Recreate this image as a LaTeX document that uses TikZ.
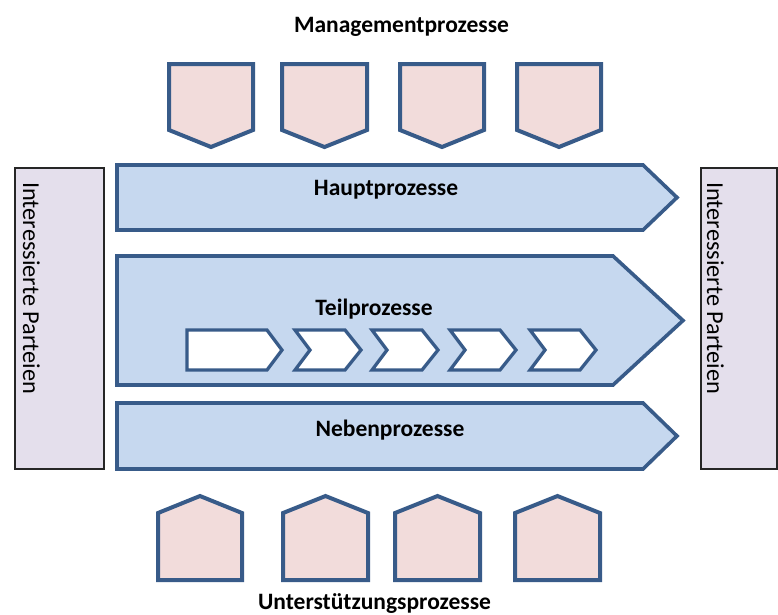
\documentclass[tikz,border=0pt]{standalone}
\usepackage{fontspec}
\setmainfont{Carlito}
\begin{document}
\definecolor{frameblue}{HTML}{385B89}
\definecolor{arrowfill}{HTML}{C6D8EF}
\definecolor{pinkfill}{HTML}{F2DCDB}
\definecolor{lilacfill}{HTML}{E4DFEC}
\begin{tikzpicture}[x=1pt,y=-1pt,
  procarrow/.style={draw=frameblue,fill=arrowfill,line width=3.6pt,line join=miter},
  pentabox/.style={draw=frameblue,fill=pinkfill,line width=4pt,line join=miter},
  chevronbox/.style={draw=frameblue,fill=white,line width=3.3pt,line join=miter},
  partybox/.style={draw=black!85,fill=lilacfill,line width=1.6pt},
  heading/.style={font=\fontsize{23.5}{28}\selectfont\bfseries,inner sep=0pt,anchor=base},
  sidelabel/.style={font=\fontsize{24.3}{28}\selectfont,inner sep=0pt,rotate=-90,anchor=base west}]
\useasboundingbox (0,0) rectangle (778,614);

% interested parties on both sides
\draw[partybox] (15,168) rectangle (104,469);
\draw[partybox] (701,168) rectangle (777,469);
\node[sidelabel] (leftparty) at (23,182) {Interessierte Parteien};
\node[sidelabel] (rightparty) at (707,182) {Interessierte Parteien};

% management processes (pointing down)
\foreach \xa/\xb in {169/253,282/367,400/484,517/601}{
  \draw[pentabox] (\xa,64) -- (\xb,64) -- (\xb,130) -- ({(\xa+\xb)/2},147) -- (\xa,130) -- cycle;
}

% support processes (pointing up)
\foreach \xa/\xb in {158/242,283/368,395/480,515/600}{
  \draw[pentabox] (\xa,580) -- (\xb,580) -- (\xb,513) -- ({(\xa+\xb)/2},496) -- (\xa,513) -- cycle;
}

% main process bands
\draw[procarrow] (117,165) -- (643,165) -- (677,197.5) -- (643,230) -- (117,230) -- cycle;
\draw[procarrow] (117,256) -- (613,256) -- (683,320.5) -- (613,385) -- (117,385) -- cycle;
\draw[procarrow] (117,403) -- (643,403) -- (677,436) -- (643,469) -- (117,469) -- cycle;

% sub-process steps
\draw[chevronbox] (187,330) -- (267,330) -- (282,350) -- (267,370) -- (187,370) -- cycle;
\foreach \b in {295,372,450,530}{
  \draw[chevronbox] (\b,330) -- (\b+50,330) -- (\b+66,350) -- (\b+50,370) -- (\b,370) -- (\b+15,350) -- cycle;
}

% labels
\node[heading] (mgmt) at (401.5,32) {Managementprozesse};
\node[heading] (haupt) at (386,195) {Hauptprozesse};
\node[heading] (teil) at (374,315) {Teilprozesse};
\node[heading] (neben) at (390,436) {Nebenprozesse};
\node[heading] (support) at (374.5,609) {Unterstützungsprozesse};
\end{tikzpicture}
\end{document}
